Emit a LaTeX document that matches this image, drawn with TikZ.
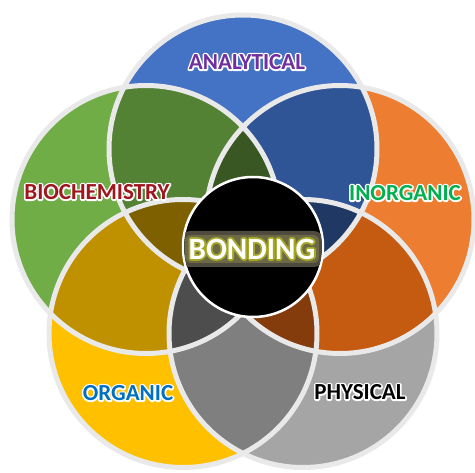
\documentclass[tikz,border=0pt]{standalone}
\usepackage{fontspec}
\setmainfont{Carlito}
\definecolor{vblue}{HTML}{4472C4}
\definecolor{vorange}{HTML}{ED7D31}
\definecolor{vgray}{HTML}{A5A5A5}
\definecolor{vyellow}{HTML}{FFC000}
\definecolor{vgreen}{HTML}{70AD47}
\definecolor{lgreenblue}{HTML}{548235}
\definecolor{lblueorange}{HTML}{2F5597}
\definecolor{lorangegray}{HTML}{C55A11}
\definecolor{lgrayyellow}{HTML}{7F7F7F}
\definecolor{lyellowgreen}{HTML}{BF9000}
\definecolor{ttop}{HTML}{385723}
\definecolor{tright}{HTML}{1F3864}
\definecolor{tbotright}{HTML}{843C0C}
\definecolor{tbotleft}{HTML}{4D4D4D}
\definecolor{tleft}{HTML}{7F6000}
\definecolor{rim}{HTML}{E9E9E9}
\definecolor{tpurple}{HTML}{7030A0}
\definecolor{tred}{HTML}{A0161E}
\definecolor{tgreen}{HTML}{00B050}
\definecolor{tblue}{HTML}{0070C0}
% outline only (stroke) of a text, for the halo behind it
\newcommand\halotext[3]{\special{pdf:literal q #1 RG #2 w 1 j 1 Tr}#3\special{pdf:literal Q}}
\begin{document}
\begin{tikzpicture}[x=1pt,y=-1pt,
  area/.style={font=\fontsize{23pt}{26pt}\selectfont\bfseries}]
\useasboundingbox (0,0) rectangle (475,473);
\fill [white] (0,0) rectangle (475,473);

\coordinate (cBlue) at (243,149);
\coordinate (cGreen) at (146,219.5);
\coordinate (cYellow) at (183,333.5);
\coordinate (cGray) at (303,333.5);
\coordinate (cOrange) at (340,219.5);
\coordinate (cBond) at (253,247);

\newcommand\vencircle[2]{%
\fill [#2] (#1) circle [radius=134pt];%
}
\newcommand\venlens[3]{%
\begin{scope}\clip (#1) circle [radius=134pt];%
\fill [#3] (#2) circle [radius=134pt];\end{scope}%
}
\newcommand\ventriple[4]{%
\begin{scope}\clip (#1) circle [radius=134pt];\clip (#2) circle [radius=134pt];%
\fill [#4] (#3) circle [radius=134pt];\end{scope}%
}
\vencircle{cBlue}{vblue}
\vencircle{cGreen}{vgreen}
\vencircle{cYellow}{vyellow}
\vencircle{cGray}{vgray}
\vencircle{cOrange}{vorange}
\venlens{cGreen}{cBlue}{lgreenblue}
\venlens{cBlue}{cOrange}{lblueorange}
\venlens{cOrange}{cGray}{lorangegray}
\venlens{cGray}{cYellow}{lgrayyellow}
\venlens{cYellow}{cGreen}{lyellowgreen}
\ventriple{cGreen}{cBlue}{cOrange}{ttop}
\ventriple{cBlue}{cOrange}{cGray}{tright}
\ventriple{cOrange}{cGray}{cYellow}{tbotright}
\ventriple{cGray}{cYellow}{cGreen}{tbotleft}
\ventriple{cYellow}{cGreen}{cBlue}{tleft}
\foreach \c in {cBlue,cGreen,cYellow,cGray,cOrange}
  \draw [rim, line width=5pt] (\c) circle [radius=134pt];

\filldraw [fill=black, draw=white, line width=2.5pt] (cBond) circle [radius=70pt];
% glow behind the centre word
\begin{scope}
\clip (cBond) circle [radius=69pt];
\fill [yellow!20!black, rounded corners=9pt] (181,231) rectangle (323,267);
\fill [yellow!34!black, rounded corners=6pt] (185,235) rectangle (319,263);
\end{scope}

\node (analyticalhalo) at (247,62) [area] {\halotext{1 1 1}{3.2}{ANALYTICAL}};
\node (analytical) at (247,62) [area, text=tpurple] {ANALYTICAL};
\node (biochemhalo) at (97,192) [area] {\halotext{1 1 1}{3.2}{BIOCHEMISTRY}};
\node (biochem) at (97,192) [area, text=tred] {BIOCHEMISTRY};
\node (inorganichalo) at (405,193) [area] {\halotext{1 1 1}{3.2}{INORGANIC}};
\node (inorganic) at (405,193) [area, text=tgreen] {INORGANIC};
\node (organichalo) at (128,393) [area] {\halotext{1 1 1}{3.2}{ORGANIC}};
\node (organic) at (128,393) [area, text=tblue] {ORGANIC};
\node (physicalhalo) at (360,392) [area] {\halotext{1 1 1}{3.2}{PHYSICAL}};
\node (physical) at (360,392) [area, text=black] {PHYSICAL};
\node (bondinghalo) at (252,249) [font=\fontsize{31pt}{34pt}\selectfont\bfseries]
  {\halotext{0.65 0.65 0.15}{3.5}{BONDING}};
\node (bonding) at (252,249) [font=\fontsize{31pt}{34pt}\selectfont\bfseries, text=white] {BONDING};
\end{tikzpicture}
\end{document}
